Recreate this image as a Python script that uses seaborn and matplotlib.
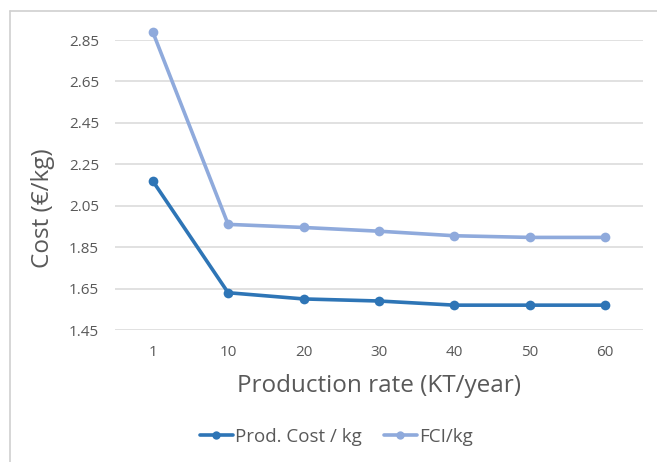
import matplotlib
matplotlib.use("Agg")
import matplotlib.pyplot as plt
import seaborn as sns
import pandas as pd
from matplotlib.lines import Line2D

# Production rate categories (KT/year)
rates = ["1", "10", "20", "30", "40", "50", "60"]
prod_cost = [2.17, 1.63, 1.60, 1.59, 1.57, 1.57, 1.57]
fci = [2.89, 1.96, 1.945, 1.927, 1.905, 1.897, 1.897]
series_names = ["Prod. Cost / kg", "FCI/kg"]
yticks = [1.45, 1.65, 1.85, 2.05, 2.25, 2.45, 2.65, 2.85]

colors = {"Prod. Cost / kg": "#2E75B6", "FCI/kg": "#8FAADC"}

df = pd.DataFrame({
    "rate": rates * 2,
    "cost": prod_cost + fci,
    "series": [series_names[0]] * len(rates) + [series_names[1]] * len(rates),
})

sns.set_theme(style="white")
plt.rcParams["font.family"] = ["Open Sans", "DejaVu Sans"]

fig = plt.figure(figsize=(6.57, 4.62), dpi=100)
ax = fig.add_axes([0.175, 0.2857, 0.8037, 0.6277])

sns.lineplot(data=df, x="rate", y="cost", hue="series", palette=colors,
             marker="o", markersize=7, markeredgewidth=0, linewidth=2.6,
             sort=False, ax=ax, legend=False, clip_on=False)

ax.set_xlim(-0.5, len(rates) - 0.5)
ax.set_ylim(1.45, 2.85)
ax.set_yticks(yticks)
ax.set_yticklabels([f"{v:.2f}" for v in yticks])
ax.grid(axis="y", color="#D9D9D9", linewidth=1.1)
ax.set_axisbelow(True)
for s in ax.spines.values():
    s.set_visible(False)
ax.tick_params(axis="both", length=0, labelsize=11, labelcolor="#595959")
ax.tick_params(axis="x", pad=11)
ax.tick_params(axis="y", pad=11.5)

ax.set_xlabel("Production rate (KT/year)", fontsize=17.5, color="#595959", labelpad=10)
ax.set_ylabel("Cost (€/kg)", fontsize=17.5, color="#595959")
# rotated label: its baseline side sits at x≈55 px, centred at y≈208 px from the top
ax.yaxis.set_label_coords(55 / 657, 1 - 208 / 462, transform=fig.transFigure)

handles = [Line2D([0], [0], color=colors[n], linewidth=2.6, marker="o",
                  markersize=6, markeredgewidth=0) for n in series_names]
fig.legend(handles, series_names, loc="center", bbox_to_anchor=(0.512, 0.054),
           ncol=2, frameon=False, fontsize=13.5, labelcolor="#595959",
           handlelength=1.76, handletextpad=0.12, columnspacing=1.17)

# chart frame edges
fig.add_artist(Line2D([10 / 657, 10 / 657], [0, 1 - 11 / 462], transform=fig.transFigure,
                      color="#D0D0D0", linewidth=1.2))
fig.add_artist(Line2D([10 / 657, 1], [1 - 11 / 462, 1 - 11 / 462], transform=fig.transFigure,
                      color="#D0D0D0", linewidth=1.2))

fig.savefig("out.png", dpi=100, facecolor="white")
